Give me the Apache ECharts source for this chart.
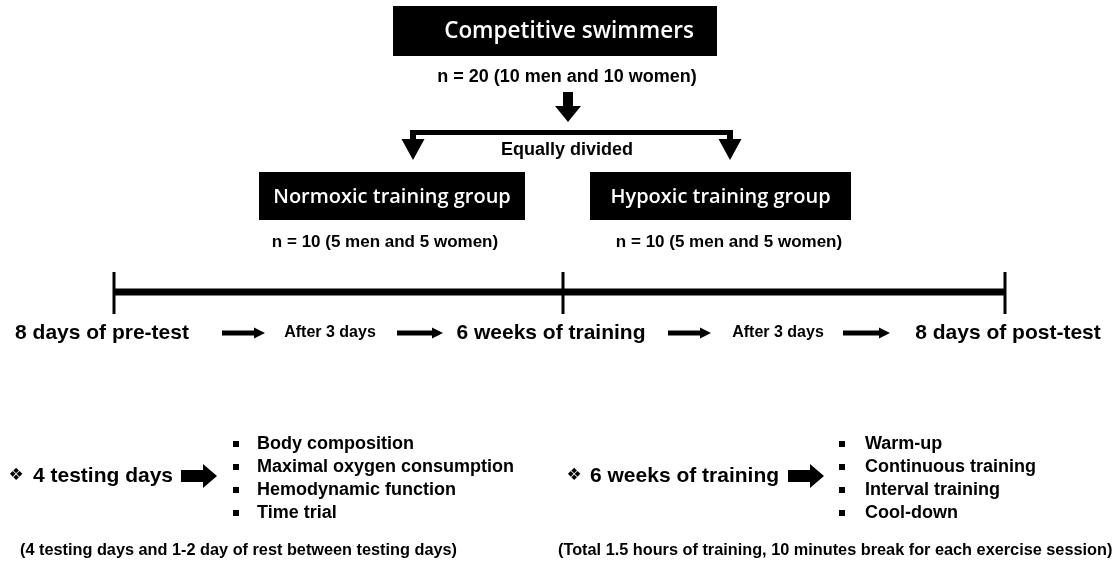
<!DOCTYPE html>
<html><head><meta charset="utf-8">
<script src="https://cdn.jsdelivr.net/npm/echarts@6/dist/echarts.min.js"></script>
<style>html,body{margin:0;padding:0;background:#fff}#c{width:1116px;height:567px}</style>
</head><body><div id="c"></div>
<script>
// ---- content ----
const topTitle = 'Competitive swimmers';
const topCount = 'n = 20 (10 men and 10 women)';
const splitLabel = 'Equally divided';
const groupNames = ['Normoxic training group', 'Hypoxic training group'];
const groupCounts = ['n = 10 (5 men and 5 women)', 'n = 10 (5 men and 5 women)'];
const timelineLabels = ['8 days of pre-test', 'After 3 days', '6 weeks of training', 'After 3 days', '8 days of post-test'];
const detailHeads = ['4 testing days', '6 weeks of training'];
const testingItems = ['Body composition', 'Maximal oxygen consumption', 'Hemodynamic function', 'Time trial'];
const trainingItems = ['Warm-up', 'Continuous training', 'Interval training', 'Cool-down'];
const footnotes = ['(4 testing days and 1-2 day of rest between testing days)', '(Total 1.5 hours of training, 10 minutes break for each exercise session)'];

// ---- layout (positions / styles) ----
const L = {
  topBox: {x: 393, y: 6, w: 324, h: 50}, topTextX: 569,
  topCountY: 77,
  downArrow: {x: 568, y1: 92, y2: 122},
  bracket: {x1: 413, x2: 730, y: 132.5},
  splitY: 150,
  groupBoxes: [{x: 259, y: 172, w: 266, h: 48}, {x: 590, y: 172, w: 261, h: 48}],
  groupCountX: [385, 729], groupCountY: 242,
  timeline: {x1: 114, xm: 563, x2: 1005, y: 292, tickTop: 272, tickBot: 314},
  rowY: 333,
  rowCenters: [102, 330, 551, 778, 1008],
  rowArrows: [[222, 265], [397, 443], [668, 711], [843, 890]],
  detailY: 476,
  detailStarMid: [16, 574], detailTextX: [33, 590],
  bigArrows: [[181, 217], [788, 824]],
  bulletX: [236, 842], itemX: [257, 865],
  itemY0: 444, itemDy: 23,
  footX: [20, 558], footY: 551
};
const SANS = '"Liberation Sans", Arial, sans-serif';
const BOXF = '"Open Sans", "Noto Sans", sans-serif';

const els = [];
function txt(x, y, s, font, align, fill) {
  els.push({type: 'text', x: x, y: y, silent: true,
    style: {text: s, font: font, fill: fill || '#000',
      textAlign: align || 'center', align: align || 'center',
      textVerticalAlign: 'middle', verticalAlign: 'middle'}});
}
function rect(x, y, w, h) {
  els.push({type: 'rect', silent: true, shape: {x: x, y: y, width: w, height: h}, style: {fill: '#000'}});
}
function poly(pts) {
  els.push({type: 'polygon', silent: true, shape: {points: pts}, style: {fill: '#000'}});
}
function rightArrow(x1, x2, y, t, hl, hh) {
  poly([[x1, y - t / 2], [x2 - hl, y - t / 2], [x2 - hl, y - hh], [x2, y], [x2 - hl, y + hh], [x2 - hl, y + t / 2], [x1, y + t / 2]]);
}
function downArrow(x, y1, y2, t, hl, hh) {
  poly([[x - t / 2, y1], [x + t / 2, y1], [x + t / 2, y2 - hl], [x + hh, y2 - hl], [x, y2], [x - hh, y2 - hl], [x - t / 2, y2 - hl]]);
}

// top box
rect(L.topBox.x, L.topBox.y, L.topBox.w, L.topBox.h);
txt(L.topTextX, L.topBox.y + L.topBox.h / 2 + 1, topTitle, '600 22.5px ' + BOXF, 'center', '#fff');
txt(567, L.topCountY, topCount, 'bold 18px ' + SANS);
downArrow(L.downArrow.x, L.downArrow.y1, L.downArrow.y2, 10, 16, 13);
// bracket
rect(L.bracket.x1 - 3, L.bracket.y - 2.5, L.bracket.x2 - L.bracket.x1 + 6, 5);
downArrow(L.bracket.x1, L.bracket.y - 2.5, 160, 6, 21, 11.5);
downArrow(L.bracket.x2, L.bracket.y - 2.5, 160, 6, 21, 11.5);
txt(567, L.splitY, splitLabel, 'bold 18px ' + SANS);
// group boxes
groupNames.forEach(function (n, i) {
  const b = L.groupBoxes[i];
  rect(b.x, b.y, b.w, b.h);
  txt(b.x + b.w / 2, b.y + b.h / 2 + 1, n, '600 20px ' + BOXF, 'center', '#fff');
  txt(L.groupCountX[i], L.groupCountY, groupCounts[i], 'bold 17px ' + SANS);
});
// timeline
const T = L.timeline;
rect(T.x1, T.y - 3.5, T.x2 - T.x1, 7);
[T.x1, T.xm, T.x2].forEach(function (x) { rect(x - 1.5, T.tickTop, 3, T.tickBot - T.tickTop); });
timelineLabels.forEach(function (s, i) {
  txt(L.rowCenters[i], L.rowY, s, 'bold ' + (i % 2 ? 16 : 21) + 'px ' + SANS);
});
L.rowArrows.forEach(function (a) { rightArrow(a[0], a[1], L.rowY, 5, 11, 5.5); });
// details
const lists = [testingItems, trainingItems];
detailHeads.forEach(function (h, i) {
  txt(L.detailStarMid[i], L.detailY, '\u2756', '17px "DejaVu Sans", sans-serif');
  txt(L.detailTextX[i], L.detailY, h, 'bold 21px ' + SANS, 'left');
  rightArrow(L.bigArrows[i][0], L.bigArrows[i][1], L.detailY, 12, 14, 12);
  lists[i].forEach(function (it, k) {
    const y = L.itemY0 + k * L.itemDy;
    rect(L.bulletX[i] - 3, y - 3, 6, 6);
    txt(L.itemX[i], y, it, 'bold 18px ' + SANS, 'left');
  });
  txt(L.footX[i], L.footY, footnotes[i], 'bold 16.3px ' + SANS, 'left');
});

const chart = echarts.init(document.getElementById('c'), null, {renderer: 'canvas'});
chart.setOption({animation: false, backgroundColor: '#fff', graphic: {elements: els}});
</script></body></html>
